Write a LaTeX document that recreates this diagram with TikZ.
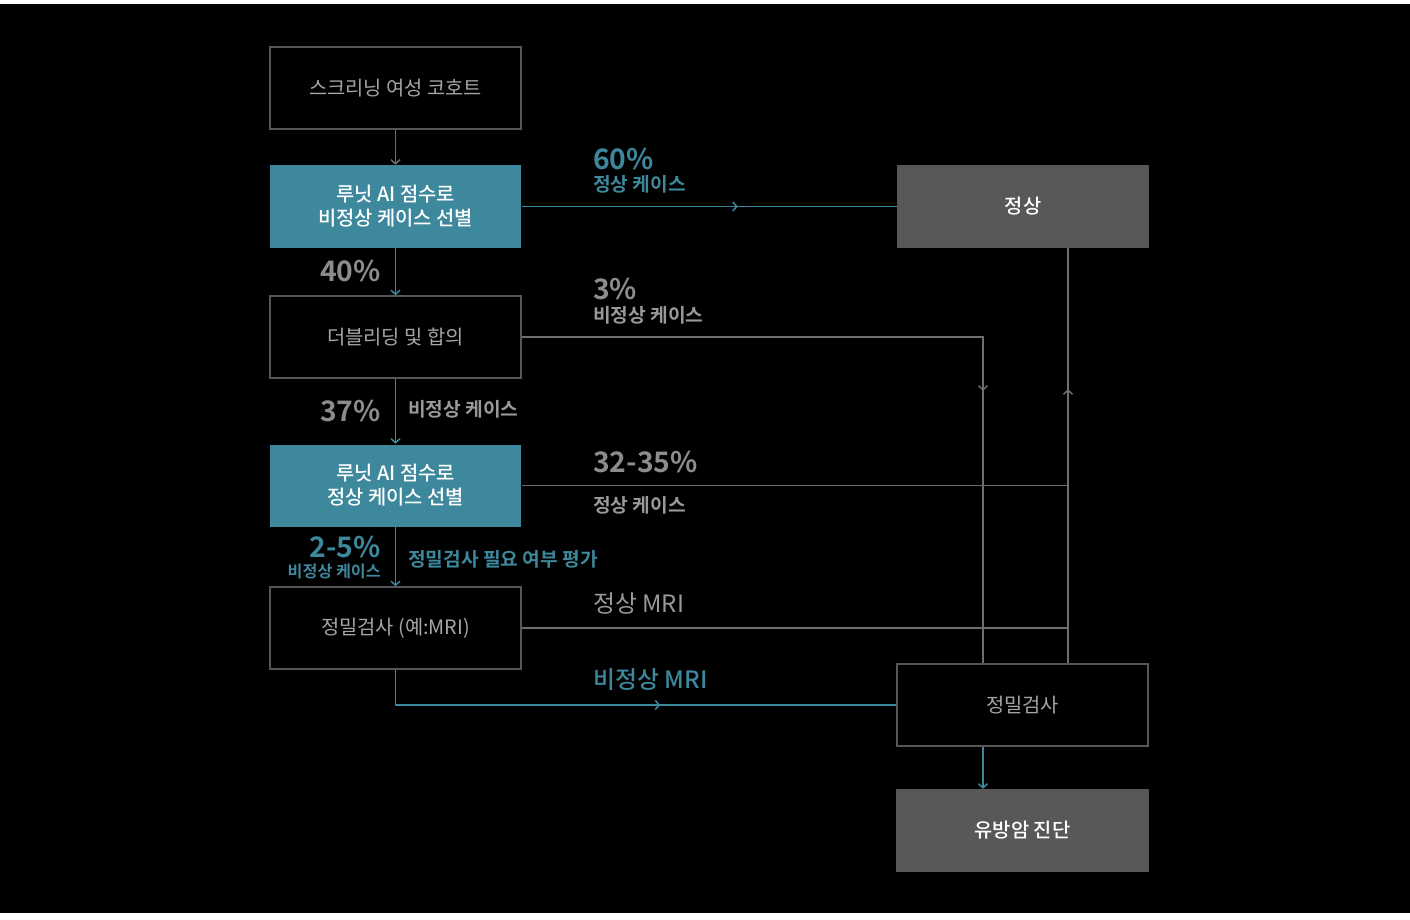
\documentclass[tikz,border=0pt]{standalone}
\usepackage{fontspec}
\setmainfont{Noto Sans CJK KR}[BoldFont={Noto Sans CJK KR Bold}]
\newfontfamily\medfont{Noto Sans CJK KR Medium}
\usepackage{tikz}
\usetikzlibrary{calc}
\usetikzlibrary{positioning}
\usetikzlibrary{arrows.meta}
\usetikzlibrary{decorations.markings}
\definecolor{lunitteal}{HTML}{3D889C}
\definecolor{resultgray}{HTML}{585858}
\definecolor{boxedge}{HTML}{565656}
\definecolor{boxtext}{HTML}{A6A6A6}
\definecolor{linegray}{HTML}{6E6E6E}
\definecolor{pctgray}{HTML}{8C8C8C}
\definecolor{notegray}{HTML}{999999}
\tikzstyle{stepbox} = [draw=boxedge, line width=1.5pt, minimum width=251pt, minimum height=82pt, align=center, text=boxtext, font=\fontsize{19.8}{24}\selectfont]
\tikzstyle{aibox} = [stepbox, draw=none, fill=lunitteal, text=white, font=\medfont\fontsize{19.8}{24}\selectfont]
\tikzstyle{resultbox} = [aibox, draw=boxedge, fill=resultgray]
\tikzstyle{pct} = [inner sep=0pt, font=\bfseries\fontsize{28.3}{32}\selectfont]
\tikzstyle{note} = [inner sep=0pt, font=\bfseries\fontsize{19.2}{23}\selectfont]
\tikzstyle{link} = [draw=linegray, line width=1.5pt]
\tikzstyle{teallink} = [draw=lunitteal, line width=1.5pt]
\tikzset{>={Straight Barb[length=4pt,width=9pt]},
  midarrow/.style={postaction={decorate}, decoration={markings, mark=at position #1 with {\arrow{>}}}}}

\begin{document}
\begin{tikzpicture}[x=1pt, y=1pt]
  \useasboundingbox (0,0) rectangle (1410,-920);
  \fill[white] (0,0) rectangle (1410,-920);
  \fill[black] (0,-4) rectangle (1410,-913);

  % left column
  \node[stepbox] (cohort) at (395.5,-88) {스크리닝 여성 코호트};
  \node[aibox, below=35pt of cohort] (aiabn) {루닛 AI 점수로\\비정상 케이스 선별};
  \node[stepbox, below=47pt of aiabn] (double) {더블리딩 및 합의};
  \node[aibox, below=65pt of double] (ainorm) {루닛 AI 점수로\\정상 케이스 선별};
  \node[stepbox, below=59pt of ainorm] (mri) {정밀검사 (예:MRI)};

  % right column
  \node[resultbox, right=375pt of aiabn] (normal) {정상};
  \node[stepbox] (exam) at (1022.5,-705) {정밀검사};
  \node[resultbox, below=42pt of exam] (cancer) {유방암 진단};
  \coordinate (xa) at (983,0);
  \coordinate (xb) at (1068,0);

  \draw[link, ->] (cohort) -- (aiabn);
  \draw[teallink, ->] (aiabn) -- (double);
  \draw[teallink, ->] (double) -- (ainorm);
  \draw[teallink, ->] (ainorm) -- (mri);
  \draw[teallink, midarrow=216pt] (aiabn) -- (normal);
  \draw[link, midarrow=515pt] (double.east) -| (xa |- exam.north);
  \draw[link, midarrow=274pt] (xb |- exam.north) -- (xb |- normal.south);
  \draw[link] (ainorm.east) -- (xb |- ainorm.east);
  \draw[link] (mri.east) -- (xb |- mri.east);
  \draw[teallink, midarrow=300pt] (mri.south) |- (exam.west);
  \draw[teallink, ->] (xa |- exam.south) -- (xa |- cancer.north);

  % labels
  \node[pct, text=lunitteal, anchor=west] (p60) at (593,-159) {60\%};
  \node[note, text=lunitteal, anchor=west] (n60) at (593,-184) {정상 케이스};
  \node[pct, text=pctgray, anchor=east] (p40) at (381,-271) {40\%};
  \node[pct, text=pctgray, anchor=west] (p3) at (593,-289) {3\%};
  \node[note, text=notegray, anchor=west] (n3) at (593,-315) {비정상 케이스};
  \node[pct, text=pctgray, anchor=east] (p37) at (381,-411) {37\%};
  \node[note, text=notegray, anchor=west] (n37) at (408,-409) {비정상 케이스};
  \node[pct, text=pctgray, anchor=west] (p32) at (593,-462) {32-35\%};
  \node[note, text=notegray, anchor=west] (n32) at (593,-505) {정상 케이스};
  \node[pct, text=lunitteal, anchor=east] (p25) at (381,-547) {2-5\%};
  \node[note, text=lunitteal, anchor=east, font=\bfseries\fontsize{16.2}{19}\selectfont] (n25) at (381,-571) {비정상 케이스};
  \node[note, text=lunitteal, anchor=west] (neval) at (408,-559) {정밀검사 필요 여부 평가};
  \node[inner sep=0pt, text=notegray, anchor=west, font=\fontsize{23.9}{28}\selectfont] (nmri) at (593,-604) {정상 MRI};
  \node[inner sep=0pt, text=lunitteal, anchor=west, font=\medfont\fontsize{23.9}{28}\selectfont] (amri) at (593,-680) {비정상 MRI};
\end{tikzpicture}
\end{document}
